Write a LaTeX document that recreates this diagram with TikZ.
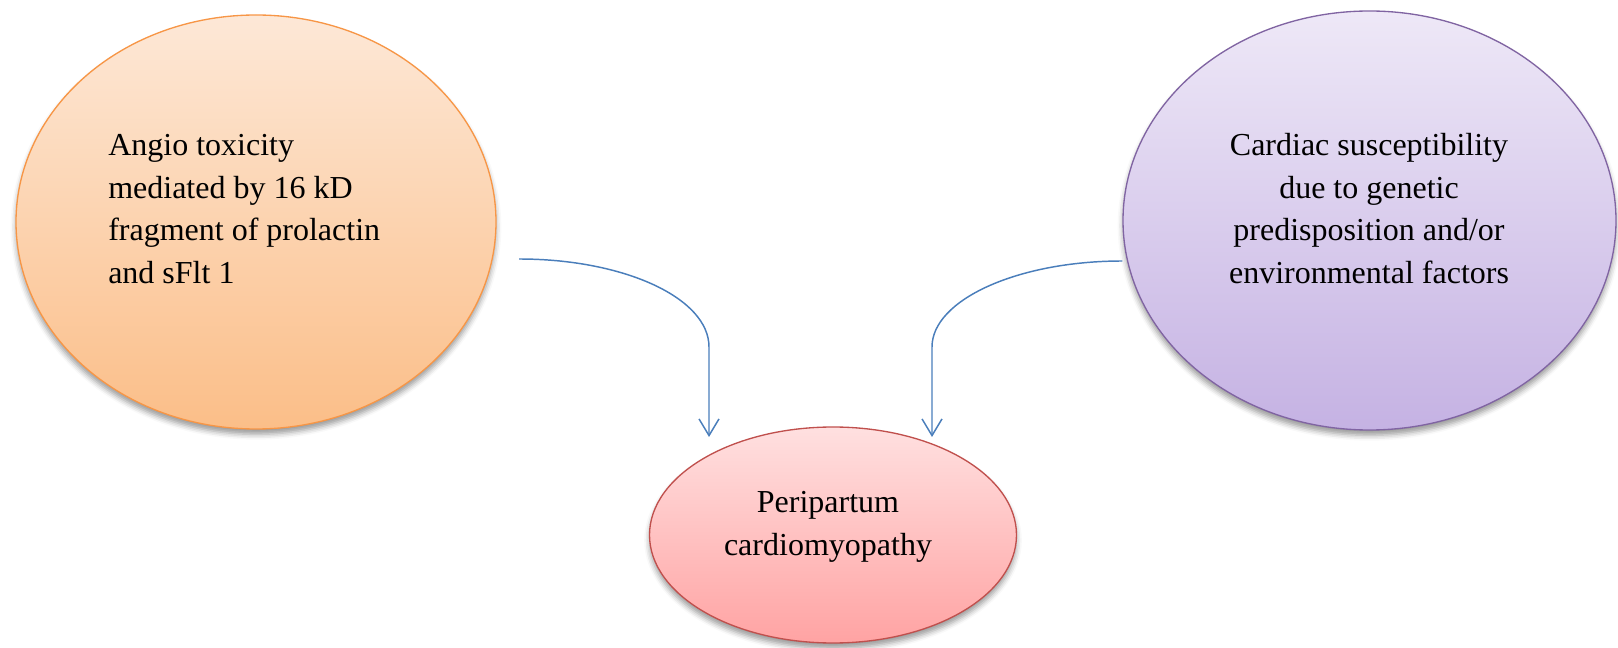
\documentclass[tikz,border=0pt]{standalone}
\usepackage{fontspec}
\setmainfont{Liberation Serif}
\usetikzlibrary{shapes.geometric,arrows.meta,shadows.blur}
\definecolor{orbord}{HTML}{F79646}
\definecolor{ortop}{HTML}{FDE8D7}
\definecolor{orbot}{HTML}{FBBE88}
\definecolor{puborder}{HTML}{8064A2}
\definecolor{putop}{HTML}{EEE8F7}
\definecolor{pubot}{HTML}{C5B2E3}
\definecolor{rdborder}{HTML}{C0504D}
\definecolor{rdtop}{HTML}{FFE0E0}
\definecolor{rdbot}{HTML}{FFA3A3}
\definecolor{arrowblue}{HTML}{4A7EBB}
\begin{document}
\begin{tikzpicture}[x=0.75pt,y=-0.75pt,
  bubble/.style={ellipse, inner sep=0pt, line width=1pt,
    blur shadow={shadow xshift=0pt, shadow yshift=-4pt, shadow blur radius=4pt, shadow opacity=40}},
  lbl/.style={inner sep=0pt, font=\fontsize{24}{32}\selectfont},
  conn/.style={draw=arrowblue, line width=1.1pt, -{Straight Barb[length=12.5pt,width=15pt]}}]
\useasboundingbox (0,0) rectangle (1618,648);
% ellipses
\node[bubble, draw=orbord, top color=ortop, bottom color=orbot,
  minimum width=360pt, minimum height=310.5pt] (angio) at (256,222) {};
\node[bubble, draw=puborder, top color=putop, bottom color=pubot,
  minimum width=369.75pt, minimum height=314.25pt] (cardiac) at (1369.5,220.5) {};
\node[bubble, draw=rdborder, top color=rdtop, bottom color=rdbot,
  minimum width=275.25pt, minimum height=162pt] (ppcm) at (833,535) {};
% texts
\node[lbl, anchor=north west, align=left] (angiotext) at (108,134)
  {Angio toxicity\\mediated by 16 kD\\fragment of prolactin\\and sFlt 1};
\node[lbl, anchor=north, align=center] (cardiactext) at (1369,133)
  {Cardiac susceptibility\\due to genetic\\predisposition and/or\\environmental factors};
\node[lbl, anchor=north, align=center] (ppcmtext) at (828,491)
  {Peripartum\\cardiomyopathy};
% connectors
\coordinate (s1) at (519,259);
\coordinate (b1) at (709,347);
\coordinate (t1) at (709,437);
\coordinate (s2) at (cardiac.west |- 0,261);
\coordinate (b2) at (932,347);
\coordinate (t2) at (932,437);
\draw[conn] (s1) .. controls +(105,0) and +(0,-49) .. (b1) -- (t1);
\draw[conn] (s2) .. controls +(-105,0) and +(0,-47) .. (b2) -- (t2);
\end{tikzpicture}
\end{document}
